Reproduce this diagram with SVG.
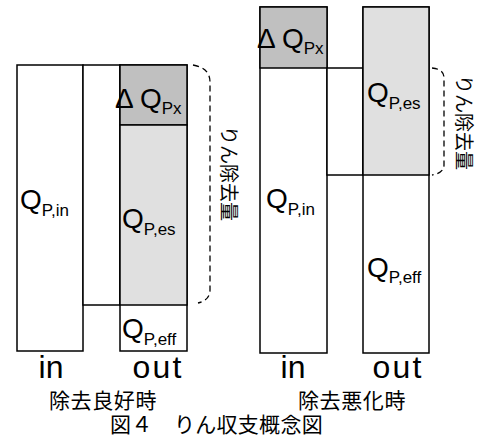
<svg xmlns="http://www.w3.org/2000/svg" width="485" height="439" viewBox="0 0 485 439">
<style>
.box{fill:#fff;stroke:#000;stroke-width:1.5}
.dark{fill:#c0c0c0;stroke:#000;stroke-width:1.5}
.light{fill:#e0e0e0;stroke:#000;stroke-width:1.5}
.br{stroke:#000;stroke-width:1.3;fill:none;stroke-dasharray:6 4}
.q{font-family:"Liberation Sans",Arial,sans-serif;font-size:28px;fill:#000}
.s{font-size:17px}
.io{font-family:"Liberation Sans",Arial,sans-serif;font-size:32px;fill:#000;text-anchor:middle}
.jp{font-family:"Noto Sans CJK JP",sans-serif;font-size:21px;fill:#000}
.vt{font-family:"Noto Sans CJK JP",sans-serif;font-size:19px;fill:#000;opacity:0.99}
</style>
<rect width="485" height="439" fill="#fff"/>
<g id="left-in">
<rect class="box" x="17" y="65" width="66" height="286"/>
<text class="q" x="20" y="209">Q<tspan class="s" dy="7">P,in</tspan></text>
</g>
<g id="left-mid">
<rect class="box" x="83" y="65" width="37" height="240"/>
</g>
<g id="left-out">
<rect class="box" x="120" y="65" width="67" height="286"/>
<rect class="dark" x="120" y="65" width="67" height="60"/>
<rect class="light" x="120" y="125" width="67" height="180"/>
<text class="q" x="115" y="108">Δ Q<tspan class="s" dy="6">Px</tspan></text>
<text class="q" x="122" y="228">Q<tspan class="s" dy="7">P,es</tspan></text>
<text class="q" x="122" y="338">Q<tspan class="s" dy="7">P,eff</tspan></text>
</g>
<g id="right-in">
<rect class="box" x="260" y="7" width="67" height="346"/>
<rect class="dark" x="260" y="7" width="67" height="61"/>
<text class="q" x="257" y="48">Δ Q<tspan class="s" dy="6">Px</tspan></text>
<text class="q" x="266" y="208">Q<tspan class="s" dy="7">P,in</tspan></text>
</g>
<g id="right-mid">
<rect class="box" x="327" y="68" width="36" height="107"/>
</g>
<g id="right-out">
<rect class="box" x="363" y="7" width="66" height="346"/>
<rect class="light" x="363" y="7" width="66" height="168"/>
<text class="q" x="367" y="102">Q<tspan class="s" dy="7">P,es</tspan></text>
<text class="q" x="367" y="277">Q<tspan class="s" dy="6">P,eff</tspan></text>
</g>
<g id="connectors">
<path class="br" d="M193,65 Q210,68 210,82 L210,290 Q210,300 198,303"/>
<path class="br" stroke-dasharray="4 3" d="M432,68 Q444,69 444,78 L444,165 Q444,173 432,175"/>
</g>
<g id="labels">
<text class="vt" transform="translate(222,126) rotate(90)">りん除去量</text>
<text class="vt" transform="translate(457,75) rotate(90)">りん除去量</text>
<text class="io" x="51" y="378">in</text>
<text class="io" x="157" y="378" textLength="49" lengthAdjust="spacing">out</text>
<text class="io" x="293" y="378">in</text>
<text class="io" x="397" y="378" textLength="49" lengthAdjust="spacing">out</text>
<text class="jp" x="49" y="408" letter-spacing="0.6">除去良好時</text>
<text class="jp" x="298" y="408" letter-spacing="0.6">除去悪化時</text>
<text class="jp" x="110" y="432" letter-spacing="0.3">図４　りん収支概念図</text>
</g>
</svg>
